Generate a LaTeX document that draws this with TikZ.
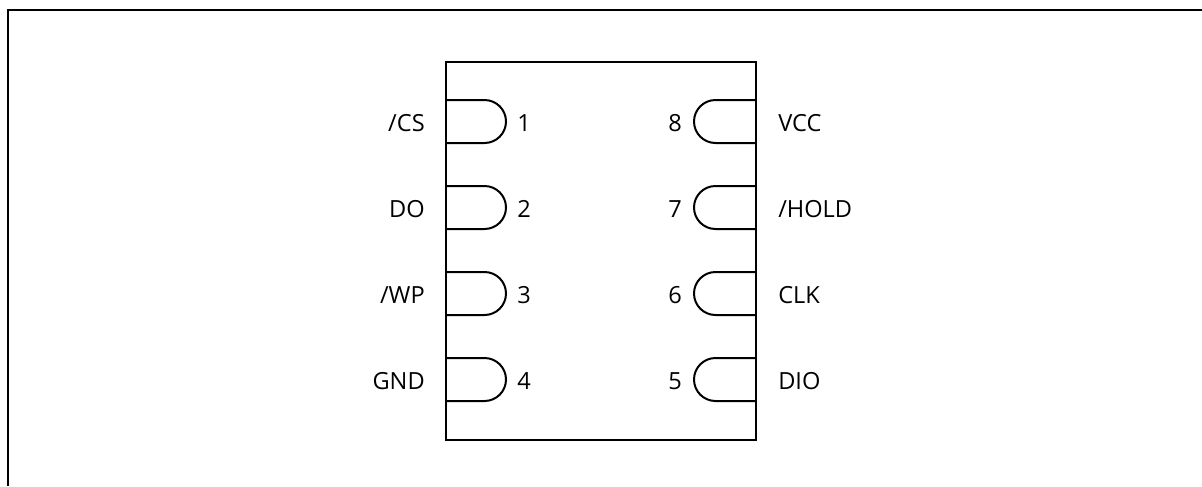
\documentclass[tikz,border=0pt]{standalone}
\usepackage{fontspec}
\setmainfont{Open Sans}
\tikzstyle{chipline} = [draw,line width=1.5pt,-]
\tikzstyle{frameline} = [draw,line width=1.5pt,-]
\tikzstyle{pinname} = [inner sep=0pt,font=\fontsize{17.7pt}{19pt}\selectfont]
\tikzstyle{pinnum} = [inner sep=0pt,font=\fontsize{17.7pt}{19pt}\selectfont]
\begin{document}
\begin{tikzpicture}[x=0.75pt,y=0.75pt]
    \useasboundingbox (0,-486) rectangle (1202,0);
    % First we draw the outer frame and the package
    \path[frameline] (8,-486) -- (8,-10) -- (1202,-10);
    \path[chipline] (445.5,-61.5) rectangle (756,-440);

    % Pins on the left side
    \foreach \y/\num/\name in {-121.5/1/{/CS}, -207.5/2/DO, -293.5/3/{/WP}, -379.5/4/GND}{
        \path[chipline] (445.5,\y+21.5) -- (484.5,\y+21.5) arc[start angle=90,end angle=-90,radius=21.5] -- (445.5,\y-21.5);
        \node[pinnum,anchor=base] (pin\num) at (524,\y-9.5) {\num};
        \node[pinname,anchor=base east] (name\num) at (425,\y-9.5) {\name};
    }

    % Pins on the right side
    \foreach \y/\num/\name in {-121.5/8/VCC, -207.5/7/{/HOLD}, -293.5/6/CLK, -379.5/5/DIO}{
        \path[chipline] (756,\y+21.5) -- (715.5,\y+21.5) arc[start angle=90,end angle=270,radius=21.5] -- (756,\y-21.5);
        \node[pinnum,anchor=base] (pin\num) at (675,\y-9.5) {\num};
        \node[pinname,anchor=base west] (name\num) at (778,\y-9.5) {\name};
    }
\end{tikzpicture}
\end{document}
